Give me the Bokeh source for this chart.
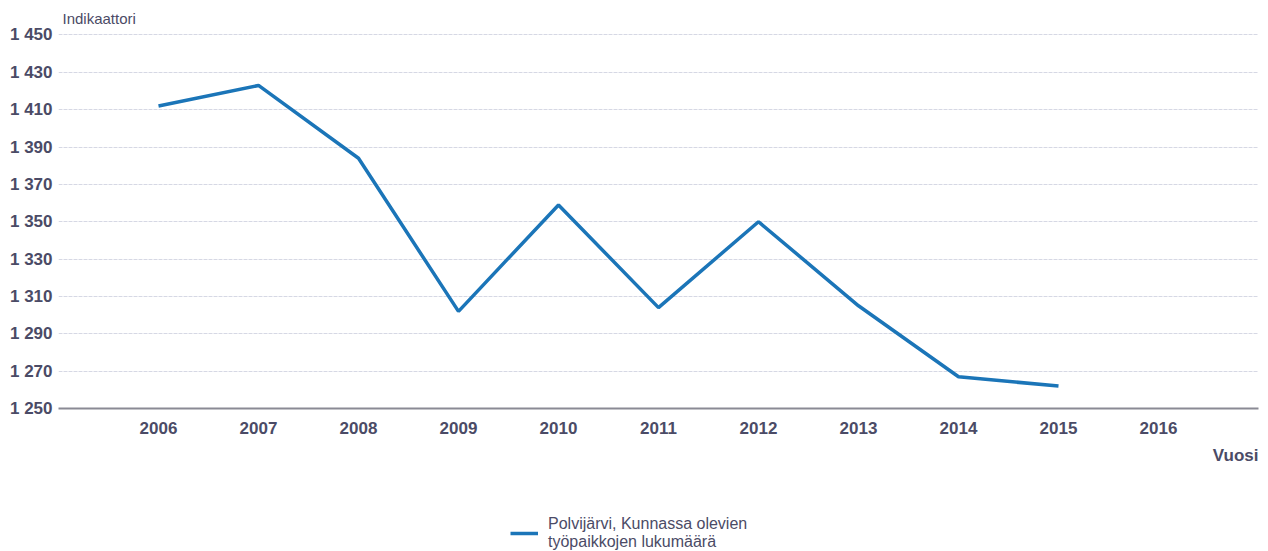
from bokeh.plotting import figure
from bokeh.layouts import column
from bokeh.models import FixedTicker, Range1d, Title, Legend, LegendItem
from bokeh.embed import file_html
from bokeh.resources import INLINE

years = [2006, 2007, 2008, 2009, 2010, 2011, 2012, 2013, 2014, 2015]
values = [1412, 1423, 1384, 1302, 1359, 1304, 1350, 1305, 1267, 1262]
x_ticks = [2006, 2007, 2008, 2009, 2010, 2011, 2012, 2013, 2014, 2015, 2016]
y_ticks = [1250, 1270, 1290, 1310, 1330, 1350, 1370, 1390, 1410, 1430, 1450]
y_tick_labels = ["1 250", "1 270", "1 290", "1 310", "1 330", "1 350",
                 "1 370", "1 390", "1 410", "1 430", "1 450"]
series_name = "Polvijärvi, Kunnassa olevien\ntyöpaikkojen lukumäärä"

FONT = "Liberation Sans"
TXT = "#4b4b66"
LINE_COLOR = "#1b75b8"

p = figure(width=1262, height=500, output_backend="svg", toolbar_location=None,
           x_range=Range1d(2005, 2017), y_range=Range1d(1250, 1450.8),
           min_border_left=58, min_border_right=4, min_border_top=33, min_border_bottom=92)
p.outline_line_color = None
p.background_fill_color = "white"

r = p.line(years, values, line_color=LINE_COLOR, line_width=3.5)

p.xaxis.ticker = FixedTicker(ticks=x_ticks)
p.yaxis.ticker = FixedTicker(ticks=y_ticks)
p.yaxis.major_label_overrides = {t: l for t, l in zip(y_ticks, y_tick_labels)}
for ax in (p.xaxis[0], p.yaxis[0]):
    ax.major_tick_line_color = None
    ax.minor_tick_line_color = None
    ax.major_label_text_font = FONT
    ax.major_label_text_font_size = "17px"
    ax.major_label_text_color = TXT
    ax.major_label_text_font_style = "bold"
p.yaxis.axis_line_color = None
p.xaxis.axis_line_color = "#8a8a94"
p.xaxis.axis_line_width = 2
p.xaxis.major_label_standoff = 7
p.yaxis.major_label_standoff = 0

p.xgrid.grid_line_color = None
p.ygrid.grid_line_color = "#d6d8e4"
p.ygrid.grid_line_width = 1
p.ygrid.grid_line_dash = "4 1"

t_y = Title(text="Indikaattori", align="left", offset=4, standoff=13,
            text_font=FONT, text_font_size="15px", text_color=TXT,
            text_font_style="normal")
p.add_layout(t_y, "above")
t_x = Title(text="Vuosi", align="right", offset=0, standoff=14,
            text_font=FONT, text_font_size="17px", text_color=TXT,
            text_font_style="bold")
p.add_layout(t_x, "below")

# legend strip below the chart
lg = figure(width=1262, height=51, output_backend="svg", toolbar_location=None,
            x_range=Range1d(0, 1), y_range=Range1d(0, 1),
            x_axis_type=None, y_axis_type=None, min_border=0)
lg.outline_line_color = None
lg.xgrid.grid_line_color = None
lg.ygrid.grid_line_color = None
r2 = lg.line(years, values, line_color=LINE_COLOR, line_width=3.5)
legend = Legend(items=[LegendItem(label=series_name, renderers=[r2])],
                location=(452, 0), orientation="vertical",
                border_line_color=None, background_fill_alpha=0,
                label_text_font=FONT, label_text_font_size="16px", label_text_color=TXT,
                label_text_line_height=1.0,
                glyph_width=28, label_standoff=10, padding=0, margin=0)
lg.add_layout(legend, "center")

layout = column(p, lg, spacing=0)
open("out.html", "w").write(file_html(layout, INLINE))
